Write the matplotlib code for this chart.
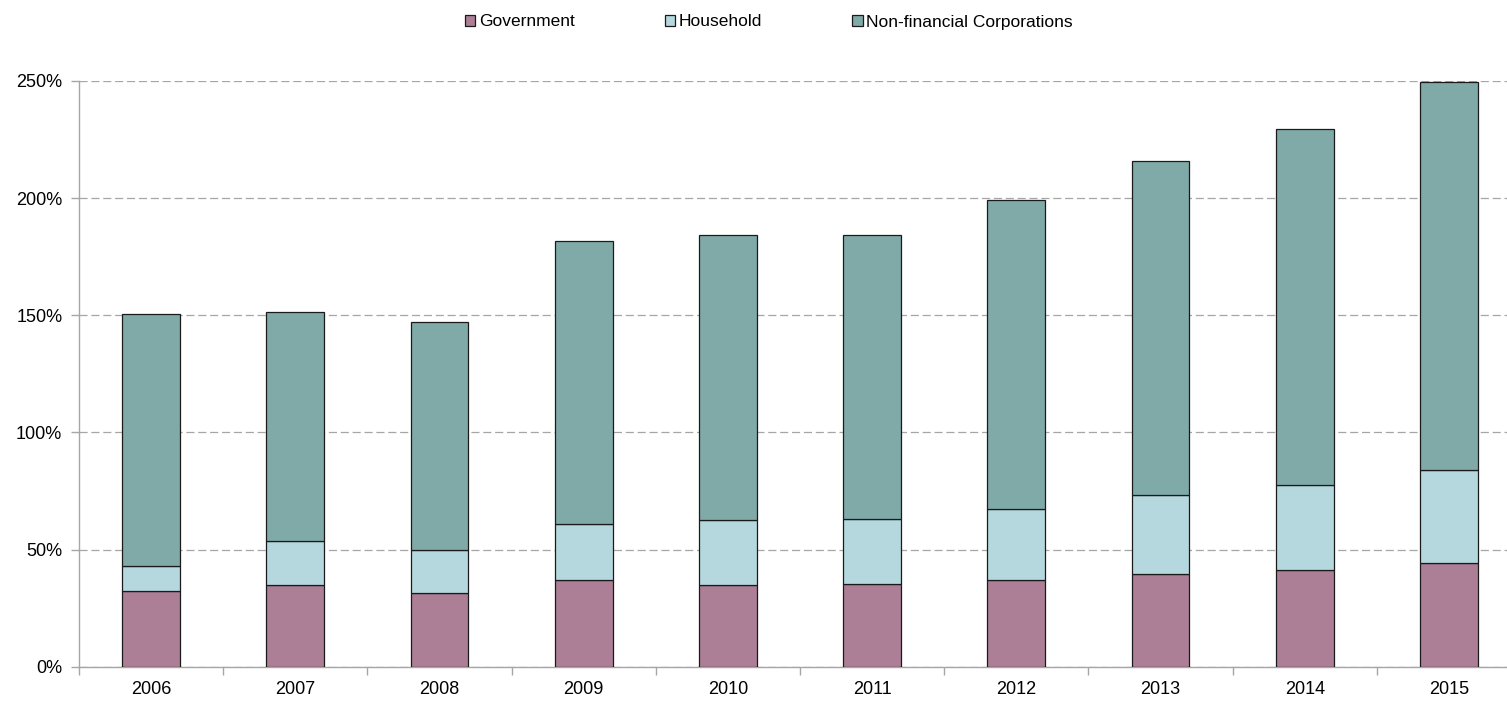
import matplotlib
matplotlib.use("Agg")
import matplotlib.pyplot as plt
import numpy as np
from matplotlib.patches import Patch
from matplotlib.ticker import FixedLocator, PercentFormatter

years = ["2006", "2007", "2008", "2009", "2010", "2011", "2012", "2013", "2014", "2015"]
government = [32.3, 34.7, 31.6, 36.9, 34.9, 35.2, 36.9, 39.7, 41.4, 44.3]
household = [10.8, 18.9, 18.1, 24.0, 27.6, 28.0, 30.3, 33.6, 36.3, 39.7]
non_financial = [107.6, 97.8, 97.3, 120.9, 121.9, 121.2, 132.1, 142.4, 151.7, 165.4]

series = [("Government", government, "#ad7f96"),
          ("Household", household, "#b5d8de"),
          ("Non-financial Corporations", non_financial, "#7faaa8")]

plt.rcParams['font.family'] = ['Liberation Sans Narrow', 'Liberation Sans', 'DejaVu Sans']

fig = plt.figure(figsize=(15.07, 7.03), dpi=100)
ax = fig.add_axes([79/1507, 36.3/703, 1428/1507, 585.7/703])

x = np.arange(len(years))
bottom = np.zeros(len(years))
for name, vals, col in series:
    ax.bar(x, vals, 0.4, bottom=bottom, color=col, edgecolor="#1a1a1a", linewidth=0.9, zorder=3)
    bottom += np.array(vals)

ax.set_ylim(0, 250)
ax.set_xlim(-0.5, 9.403)
ax.set_yticks([0, 50, 100, 150, 200, 250])
ax.yaxis.set_major_formatter(PercentFormatter(decimals=0))
ax.yaxis.grid(True, linestyle=(0, (6.5, 3)), color="#a6a6a6", linewidth=0.9, zorder=0)

# ticks at category boundaries, labels centered
ax.xaxis.set_major_locator(FixedLocator(np.arange(-0.5, 10, 1)))
ax.xaxis.set_minor_locator(FixedLocator(x))
ax.set_xticklabels([])
ax.set_xticklabels(years, minor=True)
ax.tick_params(axis="x", which="major", length=6, color="#a6a6a6", width=1)
ax.tick_params(axis="x", which="minor", length=0, pad=10, labelsize=13)
ax.tick_params(axis="y", length=6, color="#a6a6a6", width=1, labelsize=13, pad=6)

for s in ["top", "right"]:
    ax.spines[s].set_visible(False)
for s in ["left", "bottom"]:
    ax.spines[s].set_color("#a6a6a6")
    ax.spines[s].set_linewidth(1)

handles = [Patch(facecolor=c, edgecolor="#1a1a1a", linewidth=0.9) for _, _, c in series]
fig.legend(handles, [n for n, _, _ in series], loc="center", bbox_to_anchor=(769/1507, 1 - 22/703),
           ncol=3, frameon=False, fontsize=12.5, handlelength=0.6, handleheight=0.6,
           handletextpad=0.2, columnspacing=5.2)

fig.savefig("out.png", dpi=100)
